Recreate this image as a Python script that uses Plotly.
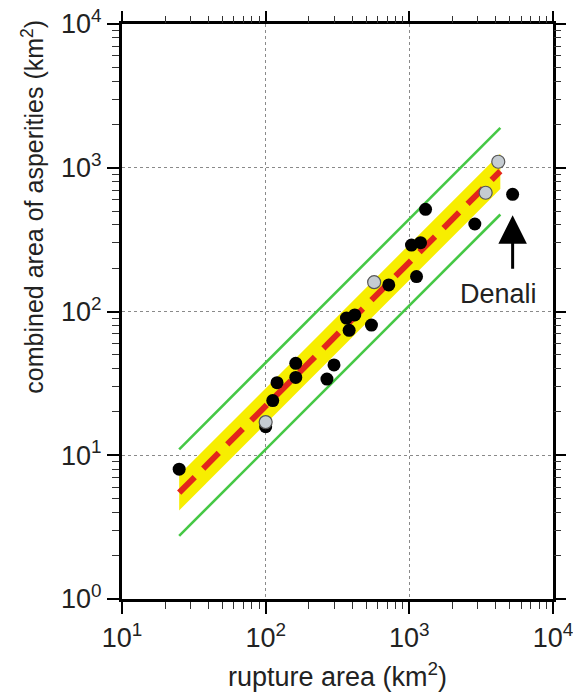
import math
import plotly.graph_objects as go

# ---------------- data ----------------
rupture_black = [25, 100, 112, 120, 162, 162, 267, 299, 365, 381, 417, 545,
                 719, 1035, 1122, 1197, 1297, 2857, 5236]
asperity_black = [8.0, 15.8, 24, 32, 43.6, 34.8, 33.9, 42.5, 90, 74, 94.6, 80.5,
                  153, 290, 175, 301, 514, 406, 653]
rupture_grey = [100, 569, 3398, 4160]
asperity_grey = [17, 160, 670, 1101]

fit_coef = 0.22        # combined asperity area = 0.22 * rupture area
band_factor = 1.33     # yellow band (multiplicative)
bound_factor = 2.0     # green bounds (multiplicative)
fit_range = [25, 4300]

denali_index = len(rupture_black) - 1

x_tickvals = [10, 100, 1000, 10000]
x_ticktext = ["10<sup>1</sup>", "10<sup>2</sup>", "10<sup>3</sup>", "10<sup>4</sup>"]
y_tickvals = [1, 10, 100, 1000, 10000]
y_ticktext = ["10<sup>0</sup>", "10<sup>1</sup>", "10<sup>2</sup>", "10<sup>3</sup>", "10<sup>4</sup>"]
x_minor = [k * 10 ** n for n in range(1, 4) for k in range(2, 10)]
y_minor = [k * 10 ** n for n in range(0, 4) for k in range(2, 10)]

FONT = "Liberation Sans, Arial, Helvetica, sans-serif"
TXT = "#222"

fit_y = [fit_coef * v for v in fit_range]

fig = go.Figure()

# yellow band
fig.add_trace(go.Scatter(x=fit_range, y=[v / band_factor for v in fit_y], mode="lines",
                         line=dict(width=0, color="#f7ee00"), hoverinfo="skip"))
fig.add_trace(go.Scatter(x=fit_range, y=[v * band_factor for v in fit_y], mode="lines",
                         line=dict(width=0, color="#f7ee00"), fill="tonexty",
                         fillcolor="#f7ee00", hoverinfo="skip"))
# green bounds
for f in (bound_factor, 1 / bound_factor):
    fig.add_trace(go.Scatter(x=fit_range, y=[v * f for v in fit_y], mode="lines",
                             line=dict(width=2.6, color="#45c845"), hoverinfo="skip"))
# red dashed fit
fig.add_trace(go.Scatter(x=fit_range, y=fit_y, mode="lines",
                         line=dict(width=6, color="#e3261c", dash="22px,12px"),
                         hoverinfo="skip"))
# points
fig.add_trace(go.Scatter(x=rupture_black, y=asperity_black, mode="markers",
                         marker=dict(size=13, color="black", line=dict(width=0))))
fig.add_trace(go.Scatter(x=rupture_grey, y=asperity_grey, mode="markers",
                         marker=dict(size=13, color="#c5ccd2",
                                     line=dict(width=1.2, color="#555"))))
# dummy trace for mirrored tick axes
fig.add_trace(go.Scatter(x=[], y=[], xaxis="x2", yaxis="y2", showlegend=False))

common = dict(type="log", ticks="outside", ticklen=12, tickwidth=1.5, tickcolor="black",
              zeroline=False, automargin=False)
minor_x = dict(ticks="outside", ticklen=7, tickwidth=1.2, tickcolor="#333",
               tickmode="array", tickvals=x_minor, showgrid=False)
minor_y = dict(ticks="outside", ticklen=7, tickwidth=1.2, tickcolor="#333",
               tickmode="array", tickvals=y_minor, showgrid=False)
grid = dict(showgrid=True, gridcolor="#8a8a8a", gridwidth=1, griddash="3px,3px")

fig.update_layout(
    width=573, height=693,
    margin=dict(l=122, r=20, t=24, b=94, autoexpand=False),
    plot_bgcolor="white", paper_bgcolor="white",
    showlegend=False,
    font=dict(family=FONT, color=TXT),
    xaxis=dict(**common, **grid, range=[1, 4], tickmode="array", tickvals=x_tickvals,
               ticktext=x_ticktext, tickfont=dict(size=27, family=FONT, color=TXT),
               showline=True, linecolor="black", linewidth=3, mirror=True,
               ticklabelstandoff=1, ticklabeloverflow="allow", minor=minor_x),
    yaxis=dict(**common, **grid, range=[0, 4], tickmode="array", tickvals=y_tickvals,
               ticktext=y_ticktext, tickfont=dict(size=27, family=FONT, color=TXT),
               showline=True, linecolor="black", linewidth=3, mirror=True,
               ticklabelstandoff=0, ticklabeloverflow="allow", minor=minor_y),
    xaxis2=dict(**common, range=[1, 4], overlaying="x", side="top", anchor="y2",
                tickmode="array", tickvals=x_tickvals, showticklabels=False,
                showgrid=False, showline=False, minor=minor_x),
    yaxis2=dict(**common, range=[0, 4], overlaying="y", side="right", anchor="x2",
                tickmode="array", tickvals=y_tickvals, showticklabels=False,
                showgrid=False, showline=False, minor=minor_y),
)

# Denali arrow and label (annotation coordinates on log axes are log10 values)
dx, dy = rupture_black[denali_index], asperity_black[denali_index]
fig.add_annotation(x=math.log10(dx), y=math.log10(dy / 1.4), xref="x", yref="y",
                   text="", showarrow=True, ax=0, ay=55, axref="pixel", ayref="pixel",
                   arrowhead=2, arrowsize=1.9, arrowwidth=3, arrowcolor="black")
fig.add_annotation(x=math.log10(dx / 1.25), y=math.log10(dy / 4.9), xref="x", yref="y",
                   text="Denali", showarrow=False,
                   font=dict(size=27, family=FONT, color=TXT),
                   xanchor="center", yanchor="middle")

fig.add_annotation(x=-0.207, y=0.682, xref="paper", yref="paper",
                   text="combined area of asperities (km<sup>2</sup>)", textangle=-90,
                   showarrow=False, font=dict(size=25, family=FONT, color=TXT),
                   xanchor="center", yanchor="middle")
fig.add_annotation(x=0.501, y=-0.132, xref="paper", yref="paper",
                   text="rupture area (km<sup>2</sup>)",
                   showarrow=False, font=dict(size=27, family=FONT, color=TXT),
                   xanchor="center", yanchor="middle")

fig.write_html("out.html")
